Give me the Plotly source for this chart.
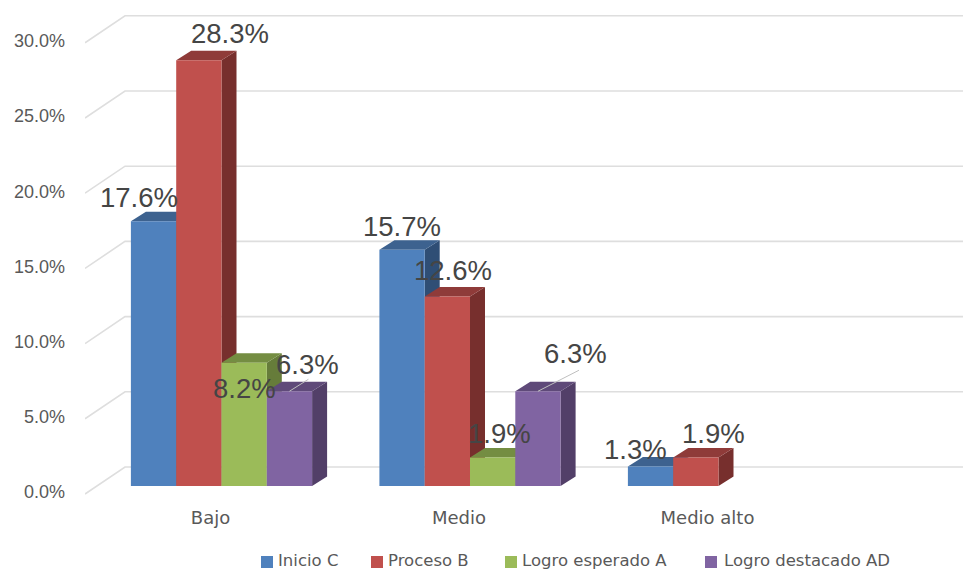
import plotly.graph_objects as go

# ---- data ----
categories = ["Bajo", "Medio", "Medio alto"]
inicio_c = [17.6, 15.7, 1.3]
proceso_b = [28.3, 12.6, 1.9]
logro_esperado_a = [8.2, 1.9, None]
logro_destacado_ad = [6.3, 6.3, None]
series_names = ["Inicio C", "Proceso B", "Logro esperado A", "Logro destacado AD"]
y_ticks = [0, 5, 10, 15, 20, 25, 30]
y_tick_labels = ["0.0%", "5.0%", "10.0%", "15.0%", "20.0%", "25.0%", "30.0%"]

series_values = [inicio_c, proceso_b, logro_esperado_a, logro_destacado_ad]
front_colors = ["#4F81BD", "#C0504D", "#9BBB59", "#8064A2"]
top_colors = ["#3D628F", "#8F3B39", "#748D42", "#5F4A79"]
side_colors = ["#2F4E75", "#772F2D", "#667C3A", "#523F68"]

# ---- geometry: one category = 248.5 px, one percent = 15.04 px ----
PX_X, PX_Y = 248.5, 15.04
X0 = (85 - 221.5) / PX_X
X1 = (971 - 221.5) / PX_X
BAR_W = 45.3 / PX_X
DEPTH_X, DEPTH_Y = 15 / PX_X, 9.5 / PX_Y
PLOT_TOP, PLOT_BOTTOM = 8, 505
pos = list(range(len(categories)))


def slot_left(cat, s):
    return cat - 2 * BAR_W + s * BAR_W


fig = go.Figure()

# slanted floor-and-wall gridlines
gx, gy = [], []
for v in y_ticks:
    gx += [X0, (125 - 221.5) / PX_X, X1, None]
    gy += [v - 8 / PX_Y, v + 19 / PX_Y, v + 19 / PX_Y, None]
fig.add_trace(go.Scatter(x=gx, y=gy, mode="lines", line=dict(color="#DEDEDE", width=1.6),
                         showlegend=False, hoverinfo="skip"))

# top and side faces of each bar, derived from the values
for s, vals in enumerate(series_values):
    tx, ty, sx, sy = [], [], [], []
    for c, v in zip(pos, vals):
        if v is None:
            continue
        l = slot_left(c, s)
        r = l + BAR_W
        tx += [l, r, r + DEPTH_X, l + DEPTH_X, l, None]
        ty += [v, v, v + DEPTH_Y, v + DEPTH_Y, v, None]
        sx += [r, r + DEPTH_X, r + DEPTH_X, r, r, None]
        sy += [0, DEPTH_Y, v + DEPTH_Y, v, 0, None]
    fig.add_trace(go.Scatter(x=sx, y=sy, mode="lines", fill="toself", fillcolor=side_colors[s],
                             line=dict(width=0, color=side_colors[s]), showlegend=False, hoverinfo="skip"))
    fig.add_trace(go.Scatter(x=tx, y=ty, mode="lines", fill="toself", fillcolor=top_colors[s],
                             line=dict(width=0, color=top_colors[s]), showlegend=False, hoverinfo="skip"))

# front faces, on an overlaid pair of axes so they sit above the depth faces
for s, vals in enumerate(series_values):
    fig.add_trace(go.Bar(x=pos, y=vals, name=series_names[s], marker=dict(color=front_colors[s], line=dict(width=0)),
                         xaxis="x2", yaxis="y2", width=BAR_W, offset=-2 * BAR_W + s * BAR_W, showlegend=False))

# leader lines of the two displaced 6.3% labels
leaders = [(0, 3, 19, 12), (1, 3, 41, 21)]
lx, ly = [], []
for c, s, dx, dy in leaders:
    v = series_values[s][c]
    xc = slot_left(c, s) + BAR_W / 2
    lx += [xc, xc + dx / PX_X, None]
    ly += [v, v + dy / PX_Y, None]
fig.add_trace(go.Scatter(x=lx, y=ly, mode="lines", line=dict(color="#BFBFBF", width=1),
                         xaxis="x2", yaxis="y2", showlegend=False, hoverinfo="skip"))

# data labels: (x shift, y shift) in px from each bar's top centre
label_shift = {
    (0, 0): (-15, 24), (0, 1): (31, 27), (0, 2): (0, -26), (0, 3): (18, 27),
    (1, 0): (0, 23), (1, 1): (6, 26), (1, 2): (7, 24), (1, 3): (38, 38),
    (2, 0): (-15, 17), (2, 1): (18, 24),
}
for (c, s), (xs, ys) in label_shift.items():
    v = series_values[s][c]
    fig.add_annotation(x=slot_left(c, s) + BAR_W / 2, y=v, xref="x2", yref="y2",
                       text=f"{v:.1f}%", showarrow=False, xshift=xs, yshift=ys,
                       font=dict(family="Liberation Sans", size=27.5, color="#454545"))


# legend row, laid out to the reference's swatch and text positions
def paper_x(px):
    return (px - 85) / (971 - 85)


def paper_y(py):
    return (PLOT_BOTTOM - py) / (PLOT_BOTTOM - PLOT_TOP)


swatch_left = [261, 371, 505, 705]
text_left = [278, 388, 522, 724]
LEGEND_Y = 562
for s, name in enumerate(series_names):
    fig.add_shape(type="rect", xref="paper", yref="paper", line=dict(width=0), fillcolor=front_colors[s],
                  x0=paper_x(swatch_left[s]), x1=paper_x(swatch_left[s] + 12),
                  y0=paper_y(LEGEND_Y + 6), y1=paper_y(LEGEND_Y - 6))
    fig.add_annotation(xref="paper", yref="paper", x=paper_x(text_left[s]), y=paper_y(LEGEND_Y - 2),
                       text=name, showarrow=False, xanchor="left", yanchor="middle", xshift=-2,
                       font=dict(family="DejaVu Sans", size=16.5, color="#595959"))

y_range = [(486 - PLOT_BOTTOM) / PX_Y, (486 - PLOT_TOP) / PX_Y]
fig.update_layout(
    width=963, height=562, autosize=False,
    margin=dict(l=77, r=0, t=0, b=65),
    paper_bgcolor="white", plot_bgcolor="white",
    barmode="overlay",
    showlegend=False,
    xaxis=dict(range=[X0, X1], tickmode="array", tickvals=[p - 11 / PX_X for p in pos], ticktext=categories,
               showgrid=False, zeroline=False, showline=False, ticks="",
               tickfont=dict(family="DejaVu Sans", size=18, color="#595959"), ticklabelstandoff=0),
    yaxis=dict(range=y_range, tickmode="array", tickvals=[v - 0.4 for v in y_ticks], ticktext=y_tick_labels,
               showgrid=False, zeroline=False, showline=False, ticks="",
               tickfont=dict(family="Liberation Sans", size=18, color="#595959"), ticklabelstandoff=19),
    xaxis2=dict(range=[X0, X1], overlaying="x", visible=False, anchor="y2"),
    yaxis2=dict(range=y_range, overlaying="y", visible=False, anchor="x2"),
)

fig.write_html("out.html")
